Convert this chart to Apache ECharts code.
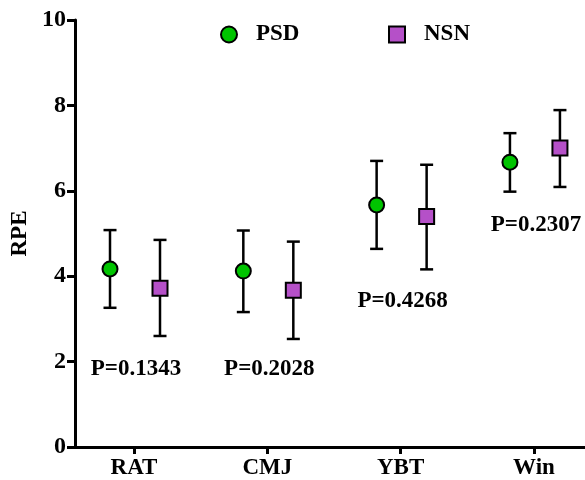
<!DOCTYPE html>
<html>
<head>
<meta charset="utf-8">
<script src="https://cdn.jsdelivr.net/npm/echarts@6/dist/echarts.min.js"></script>
<style>
html,body{margin:0;padding:0;background:#fff;}
#chart{width:585px;height:480px;}
</style>
</head>
<body>
<div id="chart"></div>
<script>
const categories = ['RAT', 'CMJ', 'YBT', 'Win'];
const psdMean = [4.17, 4.12, 5.67, 6.67];
const psdLow  = [3.26, 3.16, 4.64, 5.98];
const psdHigh = [5.08, 5.07, 6.70, 7.35];
const nsnMean = [3.72, 3.67, 5.40, 7.00];
const nsnLow  = [2.60, 2.53, 4.16, 6.09];
const nsnHigh = [4.85, 4.81, 6.61, 7.89];
const pLabels = ['P=0.1343', 'P=0.2028', 'P=0.4268', 'P=0.2307'];
const pLabelY = [1.82, 1.82, 3.42, 5.19];
const yTicks = [0, 2, 4, 6, 8, 10];

const FONT = 'Liberation Serif';
const PSD_COLOR = '#00c400';
const NSN_COLOR = '#b550c8';
const PSD_OFF = -24, NSN_OFF = 26;

function errorSeries(low, high, off) {
  return {
    type: 'custom',
    silent: true,
    z: 2,
    data: categories.map((c, i) => [i, low[i], high[i]]),
    renderItem: function (params, api) {
      const x = api.coord([api.value(0), 0])[0] + off;
      const yl = api.coord([0, api.value(1)])[1];
      const yh = api.coord([0, api.value(2)])[1];
      const hw = 6.5;
      const st = { stroke: '#000', lineWidth: 2.5 };
      return {
        type: 'group',
        children: [
          { type: 'line', shape: { x1: x, y1: yl, x2: x, y2: yh }, style: st },
          { type: 'line', shape: { x1: x - hw, y1: yl, x2: x + hw, y2: yl }, style: st },
          { type: 'line', shape: { x1: x - hw, y1: yh, x2: x + hw, y2: yh }, style: st }
        ]
      };
    }
  };
}

const chart = echarts.init(document.getElementById('chart'), null, { renderer: 'canvas' });
const textBold = { fontFamily: FONT, fontWeight: 'bold', color: '#000' };

function legendFor(name, left) {
  return {
    data: [name], left: left, top: 23, padding: 0, align: 'left',
    itemWidth: 16, itemHeight: 16,
    textStyle: Object.assign({ fontSize: 23, padding: [0, 0, 0, 14] }, textBold)
  };
}

chart.setOption({
  animation: false,
  backgroundColor: '#fff',
  grid: { left: 75, right: 0, top: 20, bottom: 30, containLabel: false },
  legend: [legendFor('PSD', 220), legendFor('NSN', 388)],
  xAxis: {
    type: 'value',
    min: -0.4426,
    max: 3.383,
    splitLine: { show: false },
    axisLine: { show: true, onZero: false, lineStyle: { color: '#000', width: 3 } },
    axisTick: { show: true, customValues: [0, 1, 2, 3], length: 7, lineStyle: { color: '#000', width: 3 } },
    axisLabel: {
      customValues: [0, 1, 2, 3],
      formatter: v => categories[Math.round(v)],
      margin: 10,
      fontSize: 23,
      fontFamily: FONT, fontWeight: 'bold', color: '#000'
    }
  },
  yAxis: {
    type: 'value',
    min: 0, max: 10, interval: 2,
    name: 'RPE',
    nameLocation: 'middle',
    nameGap: 41,
    nameTextStyle: Object.assign({ fontSize: 23 }, textBold),
    splitLine: { show: false },
    axisLine: { show: true, onZero: false, lineStyle: { color: '#000', width: 3 } },
    axisTick: { show: true, length: 8, lineStyle: { color: '#000', width: 3 } },
    axisLabel: {
      formatter: v => (yTicks.indexOf(v) >= 0 ? String(v) : ''),
      margin: 9,
      fontSize: 24,
      fontFamily: FONT, fontWeight: 'bold', color: '#000'
    }
  },
  series: [
    errorSeries(psdLow, psdHigh, PSD_OFF),
    errorSeries(nsnLow, nsnHigh, NSN_OFF),
    {
      name: 'PSD', type: 'scatter', z: 5,
      symbol: 'circle', symbolSize: 15, symbolOffset: [PSD_OFF, 0],
      itemStyle: { color: PSD_COLOR, borderColor: '#000', borderWidth: 2, opacity: 1 },
      data: categories.map((c, i) => [i, psdMean[i]])
    },
    {
      name: 'NSN', type: 'scatter', z: 5,
      symbol: 'square', symbolSize: 15, symbolOffset: [NSN_OFF, 0],
      itemStyle: { color: NSN_COLOR, borderColor: '#000', borderWidth: 2, opacity: 1 },
      data: categories.map((c, i) => [i, nsnMean[i]])
    },
    {
      type: 'scatter', silent: true, z: 6,
      symbolSize: 0,
      itemStyle: { opacity: 1, color: '#000' },
      data: categories.map((c, i) => [i, pLabelY[i]]),
      label: {
        show: true, position: 'inside',
        formatter: p => pLabels[p.dataIndex],
        fontSize: 23, fontFamily: FONT, fontWeight: 'bold', color: '#000',
        opacity: 1, textBorderWidth: 0,
        offset: [2, 0]
      }
    }
  ]
});
</script>
</body>
</html>
